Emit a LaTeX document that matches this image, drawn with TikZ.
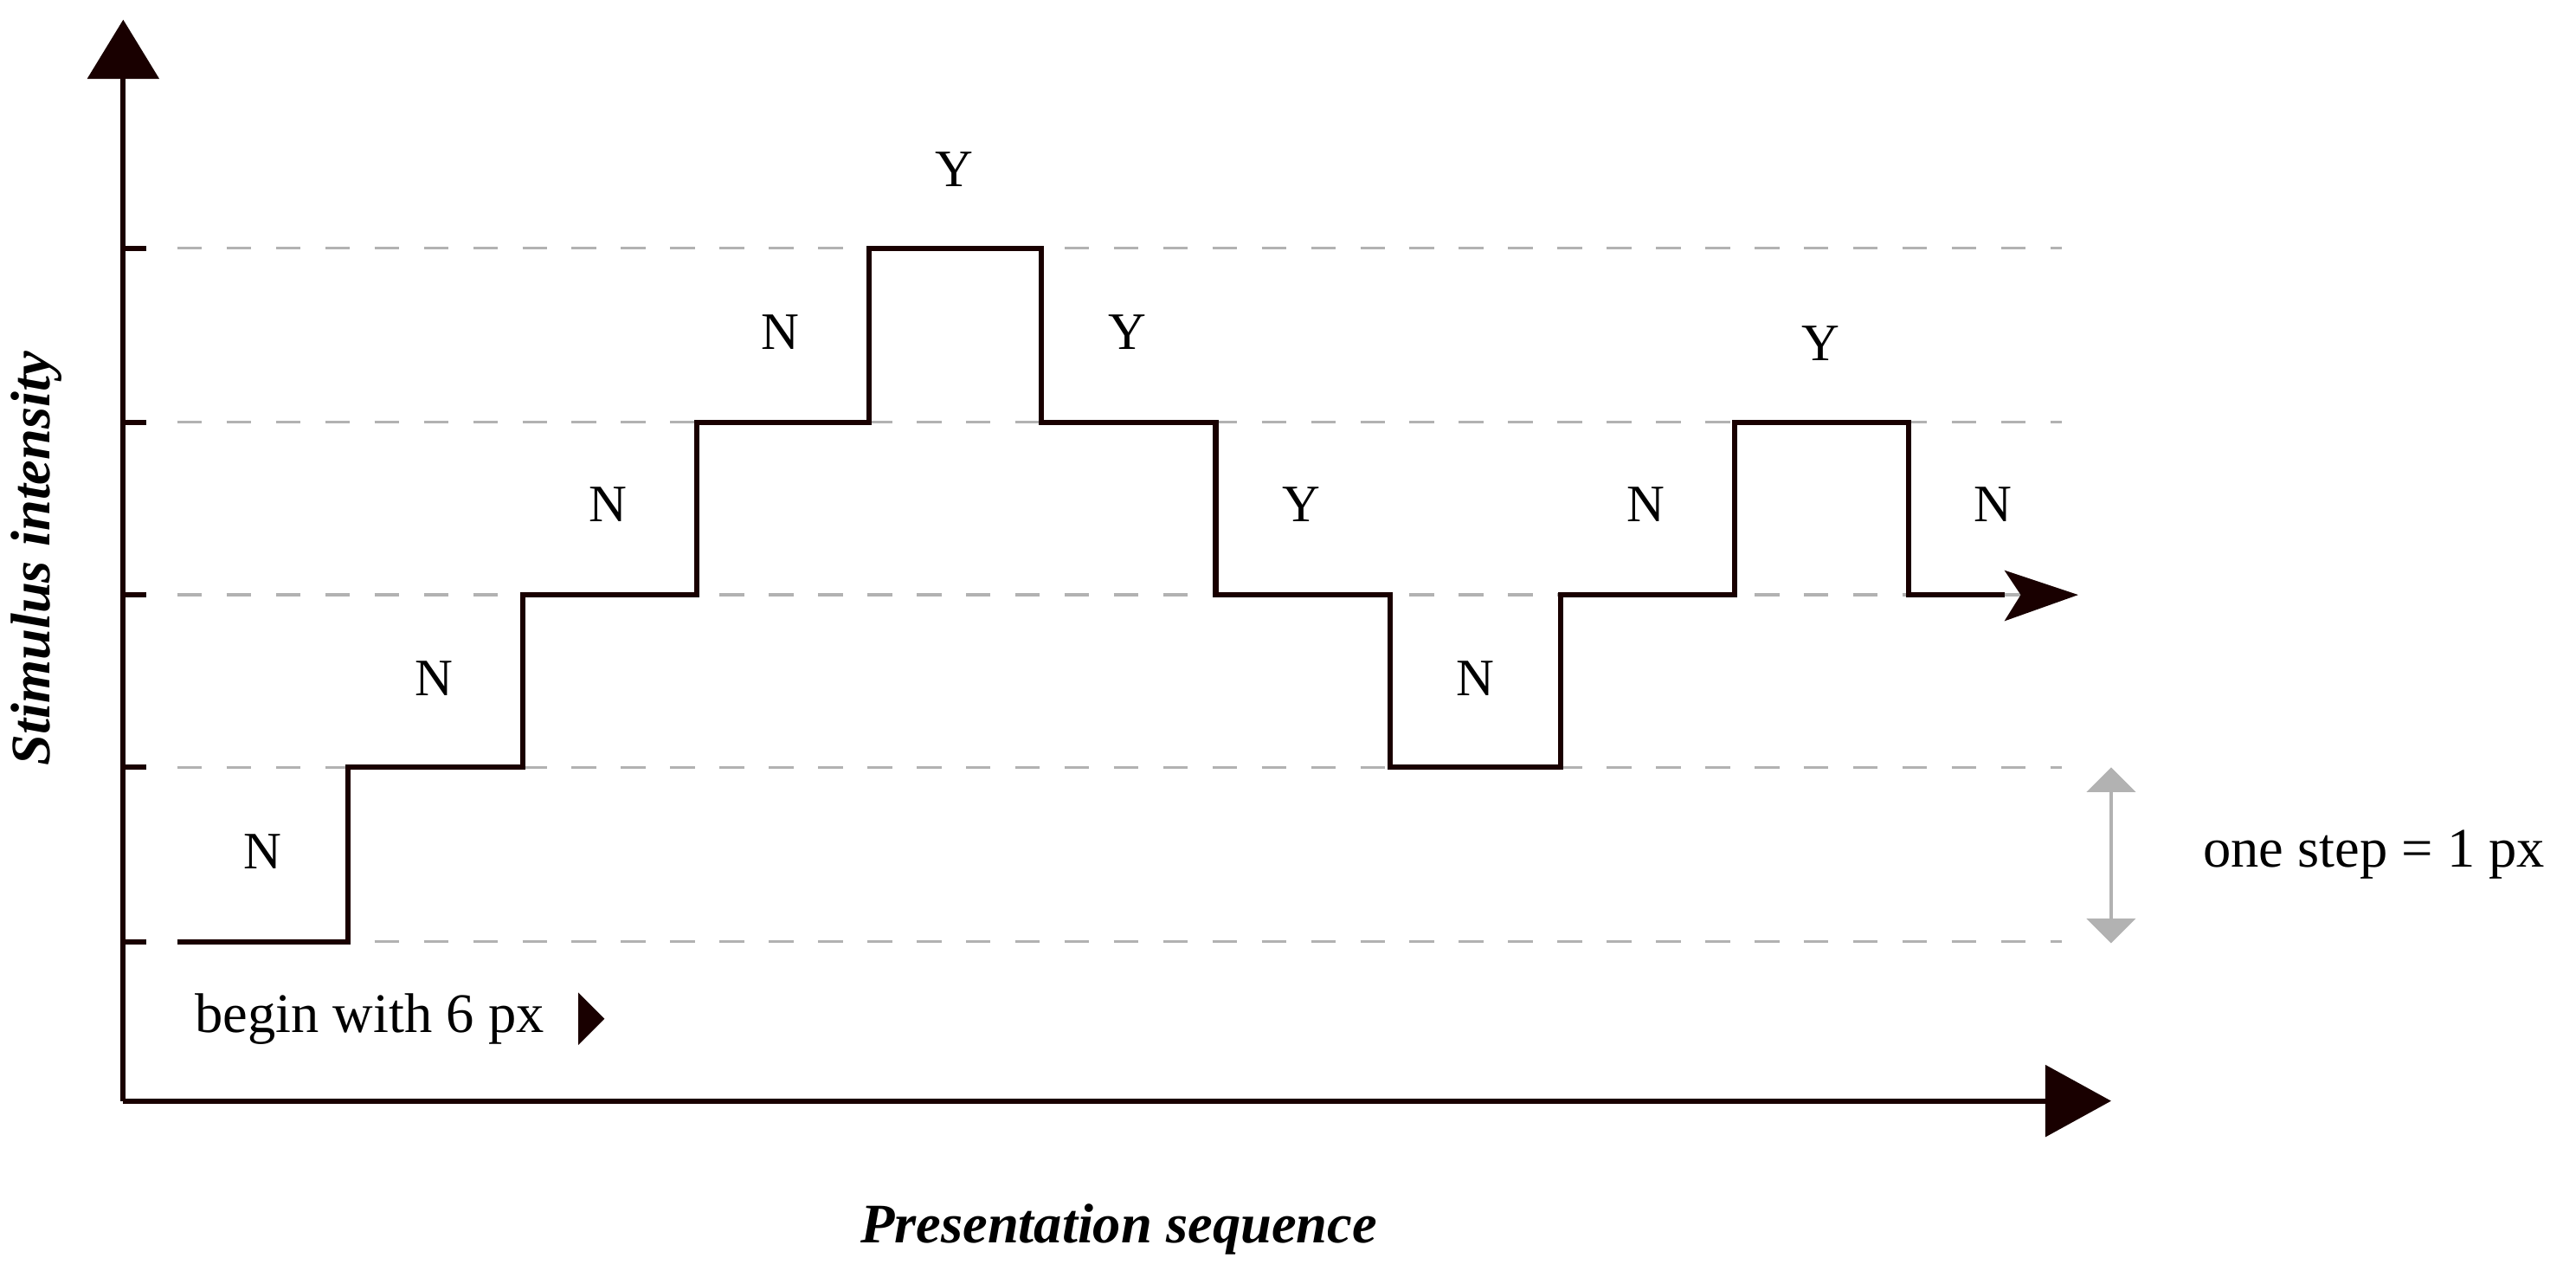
\documentclass[tikz,border=0pt]{standalone}
\usepackage{fontspec}
\setmainfont{Liberation Serif}
\begin{document}
\begin{tikzpicture}[x=0.5pt,y=-0.5pt,
  ax/.style={line width=1.6pt,draw=black!90!red},
  dsh/.style={draw=black!30,line width=0.9pt,dash pattern=on 7.5pt off 7.5pt},
  lbl/.style={font=\fontsize{16}{19}\selectfont},
  big/.style={font=\fontsize{17}{20}\selectfont\bfseries\itshape}]
\useasboundingbox (0,0) rectangle (1568,777);
\fill[white] (0,0) rectangle (1568,777);
% axes
\coordinate (o) at (75,670);
\coordinate (yt) at (75,12);
\coordinate (xt) at (1285,670);
\draw[ax] (o) -- (75,48);
\draw[ax] (o) -- (1245,670);
\fill[black!90!red] (53,48) -- (yt) -- (97,48) -- cycle;
\fill[black!90!red] (1245,648) -- (xt) -- (1245,692) -- cycle;
% ticks and dashed lines
\foreach \y in {151,257,362,467,573}{
  \draw[ax] (75,\y) -- (89,\y);
  \draw[dsh] (108,\y) -- (1255,\y);
}
% staircase
\coordinate (s) at (108,573);
\coordinate (e) at (1220,362);
\draw[ax,line join=miter] (s) -- (212,573) -- (212,467) -- (318,467) -- (318,362) -- (424,362) -- (424,257) -- (529,257) -- (529,151) -- (634,151) -- (634,257) -- (740,257) -- (740,362) -- (846,362) -- (846,467) -- (950,467) -- (950,362) -- (1056,362) -- (1056,257) -- (1162,257) -- (1162,362) -- (e);
\fill[black!90!red] (1220,347) -- (1265,362) -- (1220,378) -- (1230,362) -- cycle;
% labels
\node[lbl] (l1) at (160,518) {N};
\node[lbl] (l2) at (264,413) {N};
\node[lbl] (l3) at (370,307) {N};
\node[lbl] (l4) at (475,202) {N};
\node[lbl] (l5) at (581,103) {Y};
\node[lbl] (l6) at (686,202) {Y};
\node[lbl] (l7) at (792,307) {Y};
\node[lbl] (l8) at (898,413) {N};
\node[lbl] (l9) at (1002,307) {N};
\node[lbl] (l10) at (1108,209) {Y};
\node[lbl] (l11) at (1213,307) {N};
% step indicator
\coordinate (a1) at (1285,482);
\coordinate (a2) at (1285,559);
\draw[draw=black!30,line width=1.2pt] (a1) -- (a2);
\fill[black!30] (1270,482) -- (1285,467) -- (1300,482) -- cycle;
\fill[black!30] (1270,559) -- (1285,574) -- (1300,559) -- cycle;
\node[lbl,font=\fontsize{17}{20}\selectfont] (st) at (1445,520) {one step = 1 px};
\node[lbl,font=\fontsize{17}{20}\selectfont] (bg) at (225,620) {begin with 6 px};
\fill[black!90!red] (352,604) -- (368,620) -- (352,636) -- cycle;
\node[big,rotate=90] (yl) at (22,340) {Stimulus intensity};
\node[big] (xl) at (681,748) {Presentation sequence};
\end{tikzpicture}
\end{document}
